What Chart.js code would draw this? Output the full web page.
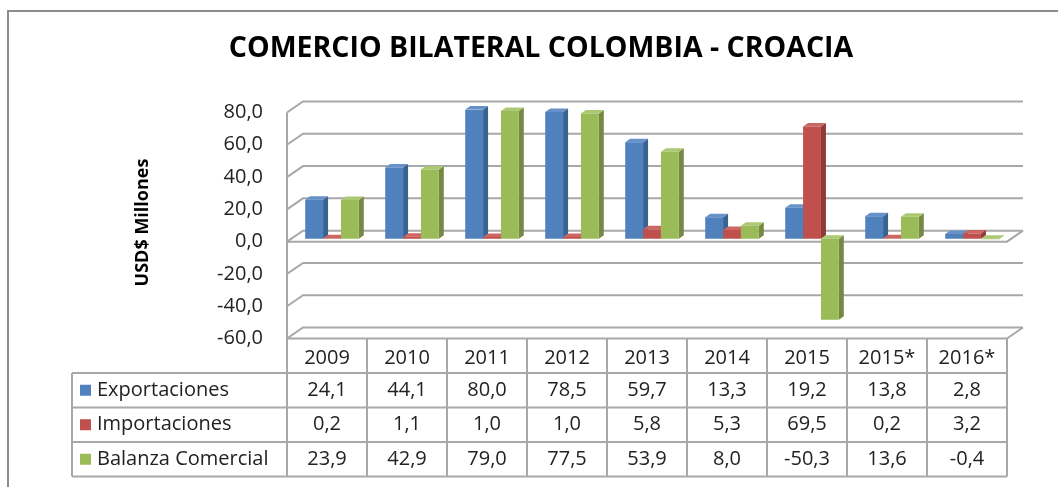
<!DOCTYPE html>
<html lang="es">
<head>
  <meta charset="UTF-8">
  <title>Comercio bilateral Colombia - Croacia</title>
  <script src="https://cdn.jsdelivr.net/npm/chart.js@4.4.0/dist/chart.umd.min.js"></script>
  <style>
    body { margin: 0; background: #fff; }
    .chart-box { width: 1058px; height: 487px; }
  </style>
</head>
<body>
  <div class="chart-box">
    <canvas id="tradeChart" width="1058" height="487"></canvas>
  </div>

  <script>
    // data (USD millones)
    const years = ['2009', '2010', '2011', '2012', '2013', '2014', '2015', '2015*', '2016*'];
    const exportaciones = [24.1, 44.1, 80.0, 78.5, 59.7, 13.3, 19.2, 13.8, 2.8];
    const importaciones = [0.2, 1.1, 1.0, 1.0, 5.8, 5.3, 69.5, 0.2, 3.2];
    const balanza = [23.9, 42.9, 79.0, 77.5, 53.9, 8.0, -50.3, 13.6, -0.4];
    const seriesNames = ['Exportaciones', 'Importaciones', 'Balanza Comercial'];
    const chartTitle = 'COMERCIO BILATERAL COLOMBIA - CROACIA';

    const frontColors = ['#4f81bd', '#c0504d', '#9bbb59'];
    const sideColors = ['#3a6290', '#8e3a38', '#728a41'];
    const topColors = ['#6792c9', '#cc6663', '#adc872'];
    const gridColor = '#a8a8a8';
    const fontFamily = "'Open Sans', sans-serif";

    const fmt = v => v.toFixed(1).replace('.', ',');

    // 3D walls, gridlines and bar side/top faces
    const wall3d = {
      id: 'wall3d',
      beforeDatasetsDraw(chart) {
        const { ctx, chartArea: a, scales: { y } } = chart;
        const fl = a.left - 5, fr = a.right - 5, bl = a.left + 11, br = a.right + 11;
        ctx.save();
        ctx.strokeStyle = gridColor;
        ctx.lineWidth = 2;
        y.ticks.forEach(t => {
          const yp = y.getPixelForValue(t.value);
          ctx.beginPath();
          ctx.moveTo(fl, yp + 3);
          ctx.lineTo(bl, yp - 8);
          ctx.lineTo(br, yp - 8);
          ctx.stroke();
        });
        ctx.beginPath();
        ctx.moveTo(fl, y.getPixelForValue(y.max) + 3);
        ctx.lineTo(fl, y.getPixelForValue(y.min) + 3);
        ctx.stroke();
        [y.min, 0].forEach(v => {
          const yp = y.getPixelForValue(v);
          ctx.beginPath();
          ctx.moveTo(fl, yp + 3);
          ctx.lineTo(fr, yp + 3);
          ctx.lineTo(br, yp - 8);
          ctx.stroke();
        });

        chart.data.datasets.forEach((ds, i) => {
          chart.getDatasetMeta(i).data.forEach(bar => {
            const { x, y: by, base, width } = bar.getProps(['x', 'y', 'base', 'width'], true);
            const l = x - width / 2, r = x + width / 2;
            const top = Math.min(by, base), bot = Math.max(by, base);
            ctx.fillStyle = sideColors[i];
            ctx.beginPath();
            ctx.moveTo(r, top);
            ctx.lineTo(r + 5, top - 3.5);
            ctx.lineTo(r + 5, bot - 3.5);
            ctx.lineTo(r, bot);
            ctx.closePath();
            ctx.fill();
            ctx.fillStyle = topColors[i];
            ctx.beginPath();
            ctx.moveTo(l, top);
            ctx.lineTo(r, top);
            ctx.lineTo(r + 5, top - 3.5);
            ctx.lineTo(l + 5, top - 3.5);
            ctx.closePath();
            ctx.fill();
          });
        });
        ctx.restore();
      }
    };

    // title, data table under the plot and the outer frame
    const dataTable = {
      id: 'dataTable',
      afterDraw(chart) {
        const { ctx, scales: { x, y } } = chart;
        const rowH = 34.5;
        const top = y.getPixelForValue(y.min) + 3;
        const legendLeft = 72;
        const half = (x.getPixelForValue(1) - x.getPixelForValue(0)) / 2;
        const colEdges = years.map((_, i) => x.getPixelForValue(i) - 5 - half);
        const right = x.getPixelForValue(years.length - 1) - 5 + half;
        colEdges.push(right);
        const bottom = top + rowH * 4;

        ctx.save();
        ctx.fillStyle = '#000';
        ctx.font = 'bold 28.5px ' + fontFamily;
        ctx.textAlign = 'center';
        ctx.textBaseline = 'alphabetic';
        ctx.fillText(chartTitle, 541, 57);

        ctx.strokeStyle = gridColor;
        ctx.lineWidth = 2;
        colEdges.forEach(cx => {
          ctx.beginPath();
          ctx.moveTo(cx, top);
          ctx.lineTo(cx, bottom);
          ctx.stroke();
        });
        for (let r = 1; r <= 4; r++) {
          ctx.beginPath();
          ctx.moveTo(legendLeft, top + rowH * r);
          ctx.lineTo(right, top + rowH * r);
          ctx.stroke();
        }
        ctx.beginPath();
        ctx.moveTo(legendLeft, top + rowH);
        ctx.lineTo(legendLeft, bottom);
        ctx.stroke();

        ctx.fillStyle = '#222';
        ctx.font = '20px ' + fontFamily;
        ctx.textBaseline = 'middle';
        ctx.textAlign = 'center';
        years.forEach((yr, i) => {
          ctx.fillText(yr, x.getPixelForValue(i) - 5, top + rowH / 2 + 3);
        });
        chart.data.datasets.forEach((ds, r) => {
          const cy = top + rowH * (r + 1.5);
          ds.data.forEach((v, i) => {
            ctx.fillStyle = '#222';
            ctx.textAlign = 'center';
            ctx.fillText(fmt(v), x.getPixelForValue(i) - 5, cy);
          });
          ctx.fillStyle = frontColors[r];
          ctx.fillRect(80, cy - 5.5, 11, 11);
          ctx.fillStyle = '#222';
          ctx.textAlign = 'left';
          ctx.fillText(seriesNames[r], 97, cy);
        });

        // outer frame
        ctx.strokeStyle = '#8c8c8c';
        ctx.beginPath();
        ctx.moveTo(8, chart.height);
        ctx.lineTo(8, 11);
        ctx.lineTo(chart.width, 11);
        ctx.stroke();
        ctx.restore();
      }
    };

    new Chart(document.getElementById('tradeChart'), {
      type: 'bar',
      data: {
        labels: years,
        datasets: [
          { label: seriesNames[0], data: exportaciones, backgroundColor: frontColors[0] },
          { label: seriesNames[1], data: importaciones, backgroundColor: frontColors[1] },
          { label: seriesNames[2], data: balanza, backgroundColor: frontColors[2] }
        ]
      },
      options: {
        responsive: false,
        animation: false,
        categoryPercentage: 0.67,
        barPercentage: 1,
        layout: { padding: { left: 0, right: 46, top: 109.5, bottom: 151.5 } },
        plugins: {
          legend: { display: false },
          tooltip: { enabled: false },
          title: { display: false }
        },
        scales: {
          x: { display: false },
          y: {
            min: -60,
            max: 80,
            afterFit: scale => { scale.width = 292; },
            grid: { display: false, drawTicks: false },
            border: { display: false },
            ticks: {
              stepSize: 20,
              padding: 29,
              labelOffset: 3,
              color: '#222',
              font: { family: fontFamily, size: 20 },
              callback: v => fmt(v)
            },
            title: {
              display: true,
              text: 'USD$ Millones',
              color: '#000',
              font: { family: fontFamily, size: 18, weight: 'bold' },
              padding: { top: 132, bottom: 0 }
            }
          }
        }
      },
      plugins: [wall3d, dataTable]
    });
  </script>
</body>
</html>
